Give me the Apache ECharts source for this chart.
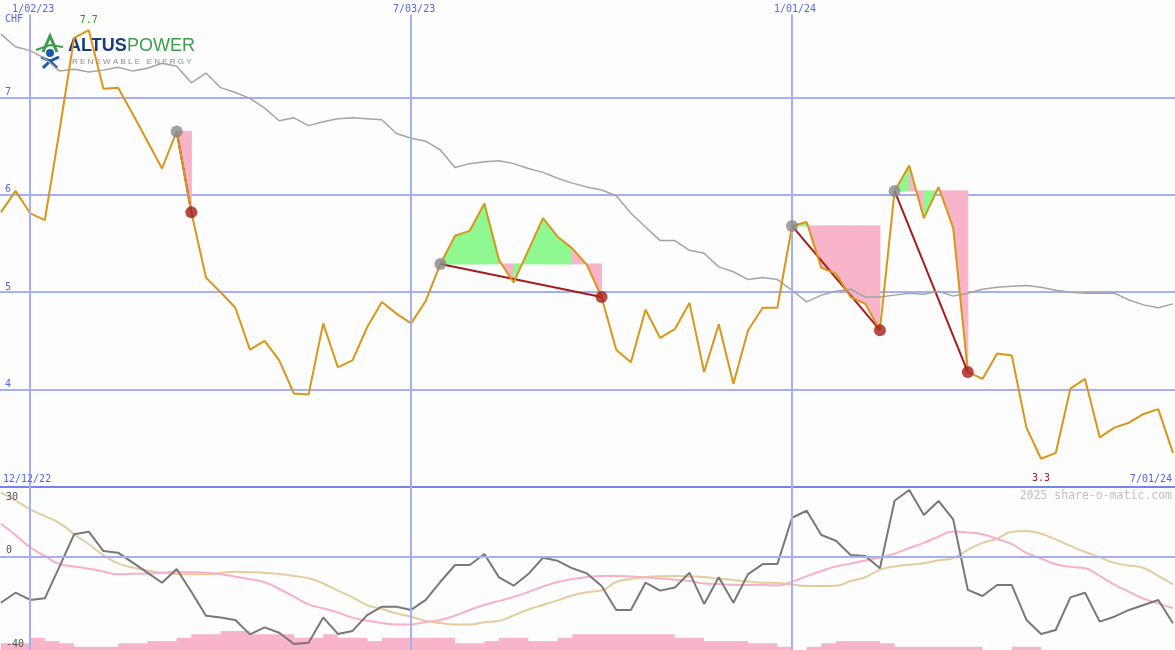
<!DOCTYPE html>
<html>
<head>
<meta charset="utf-8">
<script src="https://cdn.jsdelivr.net/npm/echarts@6/dist/echarts.min.js"></script>
<style>
  html, body { margin: 0; padding: 0; background: #fcfdfc; }
  #chart { width: 1175px; height: 650px; }
</style>
</head>
<body>
<div id="chart"></div>
<script>
// weekly data, index 0 = week of 12/19/22
var price = [5.82, 6.04, 5.81, 5.74, 6.66, 7.61, 7.69, 7.09, 7.10, 6.83,
  6.55, 6.27, 6.65, 5.82, 5.15, 5.00, 4.84, 4.41, 4.50, 4.30,
  3.96, 3.95, 4.68, 4.23, 4.30, 4.64, 4.90, 4.78, 4.68, 4.91,
  5.29, 5.58, 5.63, 5.91, 5.33, 5.10, 5.43, 5.76, 5.57, 5.45,
  5.28, 4.95, 4.41, 4.28, 4.82, 4.53, 4.62, 4.89, 4.18, 4.67,
  4.06, 4.61, 4.84, 4.84, 5.68, 5.72, 5.25, 5.19, 4.95, 4.88,
  4.61, 6.04, 6.30, 5.76, 6.08, 5.66, 4.18, 4.11, 4.37, 4.35,
  3.61, 3.29, 3.35, 4.01, 4.11, 3.51, 3.61, 3.66, 3.75, 3.80, 3.35]
var avg = [7.65, 7.52, 7.48, 7.40, 7.27, 7.29, 7.26, 7.28, 7.31, 7.27,
  7.30, 7.35, 7.32, 7.15, 7.25, 7.10, 7.05, 6.99, 6.89, 6.76,
  6.79, 6.71, 6.75, 6.78, 6.79, 6.78, 6.77, 6.63, 6.58, 6.55,
  6.46, 6.28, 6.32, 6.34, 6.35, 6.32, 6.27, 6.23, 6.17, 6.12,
  6.08, 6.05, 5.99, 5.81, 5.67, 5.53, 5.53, 5.43, 5.40, 5.26,
  5.21, 5.13, 5.15, 5.13, 5.02, 4.90, 4.97, 5.01, 5.03, 4.95,
  4.95, 4.97, 4.99, 4.98, 5.01, 4.96, 4.99, 5.03, 5.05, 5.06,
  5.07, 5.05, 5.02, 5.00, 4.99, 4.99, 4.99, 4.92, 4.87, 4.84, 4.88]
var osc = [-19.7, -15.4, -18.5, -17.8, -4.2, 9.7, 10.8, 2.5, 1.8, -2.5,
  -6.8, -11.1, -5.2, -15, -25.3, -26, -27.1, -33.3, -30.3, -32.6,
  -37.4, -36.9, -26, -33.1, -31.8, -25, -21.4, -21.4, -22.8, -18.5,
  -10.7, -3.5, -3.5, 1.2, -8.8, -12.4, -7.4, -0.4, -1.7, -4.9,
  -7.1, -12.5, -22.8, -22.8, -11.1, -14.5, -13.2, -6.8, -20.2, -8.8,
  -19.7, -7.4, -3.1, -3.1, 16.8, 19.8, 9.4, 6.9, 0.8, 0.4,
  -4.9, 24.1, 28.7, 18, 24, 16.1, -14.2, -16.8, -12.1, -12.1,
  -27.1, -33.1, -31.4, -17.4, -15.4, -27.8, -25.7, -22.8, -20.7, -18.5, -28.5]
var oscFast = [14.2, 9.4, 4.1, 0.4, -3.1, -4.1, -5.1, -6.3, -7.5, -7.3,
  -7.1, -6.8, -6.4, -6.6, -6.8, -7.5, -8.5, -9.6, -10.9, -13.8,
  -17, -20.4, -22.1, -23.9, -26.1, -27.4, -28.4, -29, -29, -28,
  -27.1, -25.2, -22.8, -20.7, -19, -17.2, -15.1, -12.8, -10.8, -9.5,
  -8.7, -8.2, -8.2, -8.4, -8.9, -9.3, -9.8, -10.4, -11.4, -11.7,
  -12, -12.1, -12, -12.3, -10.7, -8.3, -6.1, -4.1, -2.9, -1.6,
  -0.3, 1.4, 3.8, 6, 8.7, 10.9, 10.5, 9.7, 7.7, 5.5,
  1.7, -0.7, -3.2, -4.3, -4.9, -8.2, -11.9, -15, -18, -20, -22]
var oscSlow = [27.7, 24.2, 20.4, 17.5, 14.5, 9.7, 5.4, 0.8, -2.8, -4.6,
  -5.9, -6.8, -7.4, -7.5, -7.5, -6.9, -6.4, -6.6, -6.8, -7.4,
  -8.2, -9.2, -11.4, -14.5, -17.4, -20.7, -22.4, -24.2, -25.7, -27.5,
  -28.4, -29, -29, -28.1, -27.5, -25.2, -22.6, -20.7, -18.7, -16.6,
  -15.2, -14.4, -10.8, -9.5, -8.7, -8.3, -8.2, -8.4, -8.7, -9.4,
  -9.9, -10.6, -11.1, -11.2, -11.9, -12.5, -12.5, -12.4, -10.4, -8.7,
  -5.6, -4.1, -3.4, -2.7, -1.5, -0.5, 3, 6, 7.8, 10.8,
  11.1, 9.9, 7.5, 4.7, 2.1, -0.1, -2.6, -3.7, -4.8, -8.2, -11.8]
var volume = [20, 20, 37, 27, 20, 10, 10, 10, 20, 20,
  27, 27, 37, 47, 47, 57, 57, 47, 47, 47,
  37, 37, 47, 37, 37, 27, 37, 37, 37, 37,
  37, 20, 20, 27, 37, 37, 27, 27, 37, 47,
  47, 47, 47, 47, 47, 47, 37, 37, 27, 27,
  27, 20, 20, 10, 0, 10, 20, 27, 27, 27,
  20, 10, 10, 10, 10, 10, 10, 0, 0, 10,
  10, 0, 0, 0, 0, 0, 0, 0, 0, 0, 0]
// [start, end] week index of each marked move
var patterns = [[12, 13], [30, 41], [54, 60], [61, 66]]
var dateTicks = [2, 28, 54]
var dateLabels = ['1/02/23', '7/03/23', '1/01/24']
var priceTicks = [4, 5, 6, 7]
var oscTicks = [-40, 0, 30]

var mono = 'DejaVu Sans Mono'
var blue = '#5566ee'
var gridBlue = '#a4b0f2'
var green = '#90f890'
var pink = '#f8b4c8'
var darkRed = '#a51c1c'
var xMin = -0.06
var xMax = 80.14

function pairs(arr) {
  return arr.map(function(v, i) { return [i, v] })
}

var segs = []
patterns.forEach(function(p) {
  for (var i = p[0]; i < p[1]; i++) segs.push([i, i + 1, price[p[0]]])
})

// date lines stop just under the date labels in the price panel
var priceVLines = dateTicks.map(function(t) { return [{ coord: [t, 3] }, { coord: [t, 7.85] }] })
var oscVLines = dateTicks.map(function(t) { return { xAxis: t } })

var myChart = echarts.init(document.getElementById('chart'))
var option = {
  animation: false,
  backgroundColor: '#fcfdfc',
  title: [
    { text: 'CHF', left: 5, top: 14, padding: 0, textStyle: { fontFamily: mono, fontSize: 10, fontWeight: 'normal', color: blue } },
    { text: '12/12/22', left: 3, top: 474, padding: 0, textStyle: { fontFamily: mono, fontSize: 10, fontWeight: 'normal', color: blue } },
    { text: '7/01/24', right: 3, top: 474, padding: 0, textStyle: { fontFamily: mono, fontSize: 10, fontWeight: 'normal', color: blue } },
    { text: '2025 share-o-matic.com', right: 3, top: 490, padding: 0, textStyle: { fontFamily: mono, fontSize: 11.5, fontWeight: 'normal', color: '#c0c0c0' } }
  ],
  graphic: [
    { type: 'polyline', shape: { points: [[43, 52], [50, 36], [57, 52]] }, style: { stroke: '#3c9e4a', lineWidth: 3, fill: null } },
    { type: 'polyline', shape: { points: [[36, 50], [50, 45], [63, 47]] }, style: { stroke: '#3c9e4a', lineWidth: 2, fill: null } },
    { type: 'circle', shape: { cx: 50, cy: 53, r: 4 }, style: { fill: '#1b5aa8' } },
    { type: 'polyline', shape: { points: [[41, 57], [50, 61], [59, 57]] }, style: { stroke: '#1b5aa8', lineWidth: 3, fill: null } },
    { type: 'polyline', shape: { points: [[43, 68], [50, 61], [57, 68]] }, style: { stroke: '#1b5aa8', lineWidth: 3, fill: null } },
    { type: 'text', left: 68, top: 37, style: { text: 'ALTUS', font: 'bold 18px "Liberation Sans"', fill: '#1b3c7a' } },
    { type: 'text', left: 127, top: 37, style: { text: 'POWER', font: '18px "Liberation Sans"', fill: '#3c9e4a' } },
    { type: 'text', left: 72, top: 58, style: { text: 'R E N E W A B L E   E N E R G Y', font: '8px "Liberation Sans"', fill: '#8c8c8c' } }
  ],
  grid: [
    { left: 0, right: 0, top: 0, height: 487 },
    { left: 0, right: 0, top: 487, height: 163 }
  ],
  xAxis: [
    {
      gridIndex: 0, type: 'value', min: xMin, max: xMax, position: 'bottom',
      axisLine: { show: true, onZero: false, lineStyle: { color: '#7684ea', width: 2 } },
      axisTick: { show: false }, axisLabel: { show: false }, splitLine: { show: false }
    },
    {
      gridIndex: 1, type: 'value', min: xMin, max: xMax,
      axisLine: { show: false }, axisTick: { show: false }, axisLabel: { show: false }, splitLine: { show: false }
    },
    {
      gridIndex: 0, type: 'value', min: xMin, max: xMax, position: 'top', z: 20,
      axisLine: { show: false }, axisTick: { show: false }, splitLine: { show: false },
      axisLabel: {
        inside: true, margin: 4, customValues: dateTicks, padding: [0, 0, 0, 6],
        fontFamily: mono, fontSize: 10, color: blue,
        formatter: function(v) { return dateLabels[dateTicks.indexOf(v)] }
      }
    }
  ],
  yAxis: [
    {
      gridIndex: 0, type: 'value', min: 3, max: 8, interval: 1,
      axisLine: { show: false }, axisTick: { show: false },
      axisLabel: {
        inside: true, margin: 5, verticalAlign: 'bottom',
        fontFamily: mono, fontSize: 10, color: blue,
        formatter: function(v) { return priceTicks.indexOf(v) >= 0 ? String(v) : '' }
      },
      splitLine: { show: true, showMinLine: false, showMaxLine: false, lineStyle: { color: gridBlue, width: 2 } }
    },
    {
      gridIndex: 1, type: 'value', min: -40, max: 30, z: 20,
      axisLine: { show: false }, axisTick: { show: false }, splitLine: { show: false },
      axisLabel: {
        inside: true, margin: 6, customValues: oscTicks,
        fontFamily: mono, fontSize: 10, color: '#555',
        formatter: function(v) { return v === 30 ? '{t|30}' : '{b|' + v + '}' },
        rich: {
          t: { padding: [20, 0, 0, 0], fontFamily: mono, fontSize: 10, color: '#555' },
          b: { padding: [0, 0, 12, 0], fontFamily: mono, fontSize: 10, color: '#555' }
        }
      }
    },
    {
      gridIndex: 1, type: 'value', min: 0, max: 489, show: false
    }
  ],
  series: [
    {
      type: 'custom', xAxisIndex: 0, yAxisIndex: 0, z: 1, silent: true,
      data: segs,
      encode: { x: [0, 1], y: 2 },
      renderItem: function(params, api) {
        var a = api.value(0)
        var b = api.value(1)
        var base = api.value(2)
        var c = price[b] >= base ? green : pink
        var pts = [api.coord([a, base]), api.coord([a, price[a]]), api.coord([b, price[b]]), api.coord([b, base])]
        return { type: 'polygon', shape: { points: pts }, style: { fill: c, stroke: c, lineWidth: 1 } }
      }
    },
    {
      type: 'custom', xAxisIndex: 0, yAxisIndex: 0, z: 2, silent: true,
      data: patterns.map(function(p) { return [p[0], p[1], price[p[0]], price[p[1]]] }),
      encode: { x: [0, 1], y: [2, 3] },
      renderItem: function(params, api) {
        var s = api.coord([api.value(0), api.value(2)])
        var e = api.coord([api.value(1), api.value(3)])
        return { type: 'line', shape: { x1: s[0], y1: s[1], x2: e[0], y2: e[1] }, style: { stroke: darkRed, lineWidth: 2 } }
      }
    },
    {
      name: 'avg', type: 'line', xAxisIndex: 0, yAxisIndex: 0, z: 3,
      data: pairs(avg), showSymbol: false,
      lineStyle: { color: '#a4a4a4', width: 1.5 },
      markLine: {
        silent: true, symbol: 'none', label: { show: false },
        lineStyle: { color: gridBlue, width: 2, type: 'solid' },
        data: priceVLines
      }
    },
    {
      name: 'price', type: 'line', xAxisIndex: 0, yAxisIndex: 0, z: 4,
      data: pairs(price), showSymbol: false,
      lineStyle: { color: '#d8961a', width: 2 },
      markPoint: {
        symbol: 'circle', symbolSize: 1, itemStyle: { color: 'rgba(0,0,0,0)' },
        label: {
          show: true, fontFamily: mono, fontSize: 10,
          formatter: function(p) { return p.value.toFixed(1) }
        },
        data: [
          { type: 'max', label: { position: 'top', distance: 4, color: '#2a962a' } },
          { type: 'min', label: { position: 'bottom', distance: 14, color: darkRed } }
        ]
      }
    },
    {
      type: 'scatter', xAxisIndex: 0, yAxisIndex: 0, z: 5, silent: true,
      symbolSize: 12, itemStyle: { color: '#888888' },
      data: patterns.map(function(p) { return [p[0], price[p[0]]] })
    },
    {
      type: 'scatter', xAxisIndex: 0, yAxisIndex: 0, z: 5, silent: true,
      symbolSize: 12, itemStyle: { color: darkRed },
      data: patterns.map(function(p) { return [p[1], price[p[1]]] })
    },
    {
      name: 'volume', type: 'line', xAxisIndex: 1, yAxisIndex: 2, z: 1,
      data: pairs(volume), step: 'end', showSymbol: false,
      lineStyle: { width: 0 }, areaStyle: { color: pink, opacity: 1, origin: 'start' }
    },
    {
      name: 'slow', type: 'line', xAxisIndex: 1, yAxisIndex: 1, z: 2,
      data: pairs(oscSlow), showSymbol: false, smooth: true,
      lineStyle: { color: '#e6cc9c', width: 2 }
    },
    {
      name: 'fast', type: 'line', xAxisIndex: 1, yAxisIndex: 1, z: 3,
      data: pairs(oscFast), showSymbol: false, smooth: true,
      lineStyle: { color: '#f8b0c8', width: 2 }
    },
    {
      name: 'osc', type: 'line', xAxisIndex: 1, yAxisIndex: 1, z: 4,
      data: pairs(osc), showSymbol: false,
      lineStyle: { color: '#787878', width: 2 },
      markLine: {
        silent: true, symbol: 'none', label: { show: false },
        lineStyle: { color: gridBlue, width: 2, type: 'solid' },
        data: [{ yAxis: 0 }].concat(oscVLines)
      }
    }
  ]
}
myChart.setOption(option, true)
</script>
</body>
</html>
